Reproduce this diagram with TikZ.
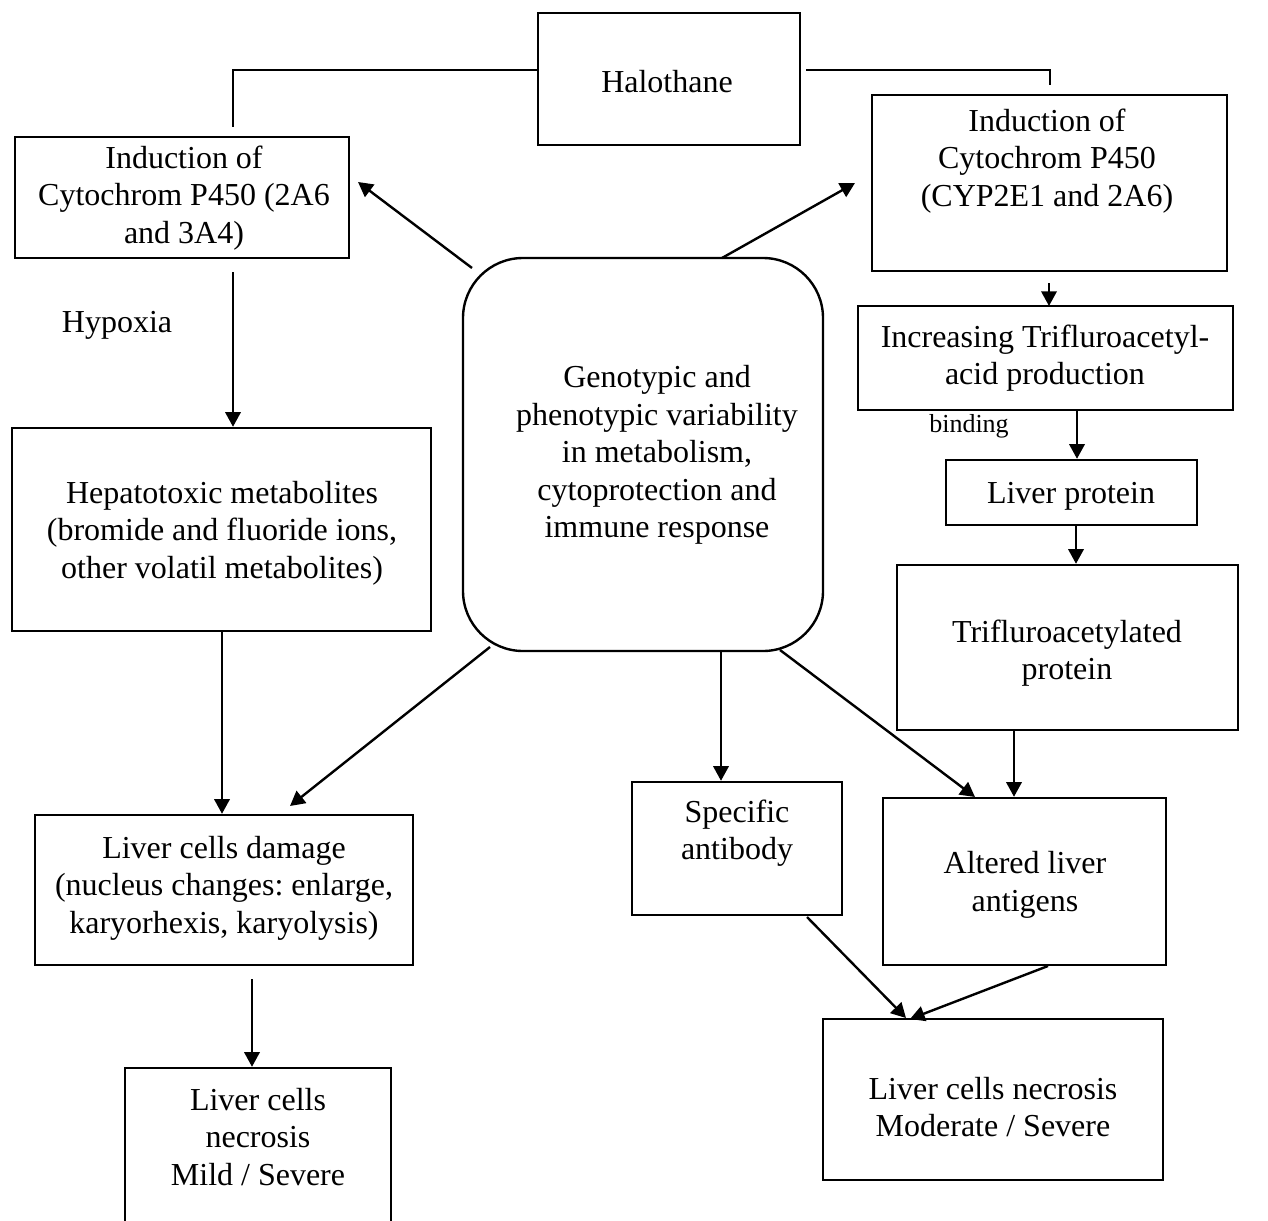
\documentclass[tikz,border=0pt]{standalone}
\usepackage{fontspec}
\setmainfont{Liberation Serif}
\usetikzlibrary{arrows.meta,fit,calc}
\frenchspacing
\begin{document}
\begin{tikzpicture}[x=0.75pt,y=-0.75pt,
  box/.style={draw, line width=1.8pt, inner sep=0pt},
  txt/.style={align=center, inner sep=0pt, yshift=-2.2pt, font=\fontsize{24}{28.1}\selectfont},
  small/.style={inner sep=0pt, font=\fontsize{19.5}{23}\selectfont},
  arr/.style={line width=1.8pt, -{Triangle[length=11pt,width=11.5pt]}},
  ln/.style={line width=1.8pt}]
\useasboundingbox (0,0) rectangle (1268,1221);
\clip (0,0) rectangle (1268,1221);
\fill[white] (0,0) rectangle (1268,1221);

% boxes
\node[box, fit={(538,13) (800,145)}] (halo) {};
\node[box, fit={(15,137) (349,258)}] (indL) {};
\node[box, fit={(872,95) (1227,271)}] (indR) {};
\node[box, fit={(858,306) (1233,410)}] (incr) {};
\node[box, fit={(946,460) (1197,525)}] (lprot) {};
\node[box, fit={(897,565) (1238,730)}] (tfap) {};
\node[box, rounded corners=45pt, fit={(463,258) (823,651)}] (geno) {};
\node[box, fit={(12,428) (431,631)}] (hepa) {};
\node[box, fit={(35,815) (413,965)}] (dmg) {};
\node[box, fit={(125,1068) (391,1260)}] (necL) {};
\node[box, fit={(632,782) (842,915)}] (spec) {};
\node[box, fit={(883,798) (1166,965)}] (alt) {};
\node[box, fit={(823,1019) (1163,1180)}] (necR) {};

% texts
\node[txt] (haloT) at (667,79) {Halothane};
\node[txt] (indLT) at (184,195) {Induction of\\Cytochrom P450 (2A6\\and 3A4)};
\node[txt] (indRT) at (1047,158) {Induction of\\Cytochrom P450\\(CYP2E1 and 2A6)};
\node[txt] (incrT) at (1045,355) {Increasing Trifluroacetyl-\\acid production};
\node[small] (bind) at (969,426) {binding};
\node[txt] (lprotT) at (1071,493) {Liver protein};
\node[txt] (tfapT) at (1067,650) {Trifluroacetylated\\protein};
\node[txt] (genoT) at (657,452) {Genotypic and\\phenotypic variability\\in metabolism,\\cytoprotection and\\immune response};
\node[txt] (hypo) at (117,322) {Hypoxia};
\node[txt] (hepaT) at (222,530) {Hepatotoxic metabolites\\(bromide and fluoride ions,\\other volatil metabolites)};
\node[txt] (dmgT) at (224,885) {Liver cells damage\\(nucleus changes: enlarge,\\karyorhexis, karyolysis)};
\node[txt] (necLT) at (258,1134) {Liver cells\\necrosis\\Mild / Severe};
\node[txt] (specT) at (737,830) {Specific\\antibody};
\node[txt] (altT) at (1025,882) {Altered liver\\antigens};
\node[txt] (necRT) at (993,1104) {Liver cells necrosis\\Moderate / Severe};

% halothane connectors
\coordinate (hl0) at (233,70);
\coordinate (hl) at (233,127);
\draw[ln] (halo.west |- hl0) -| (hl);
\coordinate (hr0) at (806,70);
\coordinate (hr) at (1050,85);
\draw[ln] (hr0) -| (hr);

% arrows
\coordinate (a1s) at (1049,283); \coordinate (a1e) at (1049,306);
\draw[arr] (a1s) -- (a1e);
\draw[arr] (incr.south -| 1077,0) -- (lprot.north -| 1077,0);
\draw[arr] (lprot.south -| 1076,0) -- (tfap.north -| 1076,0);
\draw[arr] (tfap.south -| 1014,0) -- (alt.north -| 1014,0);
\coordinate (g1) at (472,268); \coordinate (g1e) at (358,182);
\draw[arr] (g1) -- (g1e);
\coordinate (g2) at (722,258); \coordinate (g2e) at (855,183);
\draw[arr] (g2) -- (g2e);
\coordinate (g3) at (721,651);
\draw[arr] (g3) -- (spec.north -| g3);
\coordinate (g4) at (780,650); \coordinate (g4e) at (975,797);
\draw[arr] (g4) -- (g4e);
\coordinate (g5) at (490,647); \coordinate (g5e) at (290,806);
\draw[arr] (g5) -- (g5e);
\coordinate (l1) at (233,272);
\draw[arr] (l1) -- (hepa.north -| l1);
\coordinate (l2) at (222,631);
\draw[arr] (l2) -- (dmg.north -| l2);
\coordinate (l3) at (252,979);
\draw[arr] (l3) -- (necL.north -| l3);
\coordinate (s1) at (807,917); \coordinate (s1e) at (906,1018);
\draw[arr] (s1) -- (s1e);
\coordinate (s2) at (1048,966); \coordinate (s2e) at (910,1019);
\draw[arr] (s2) -- (s2e);
\end{tikzpicture}
\end{document}
